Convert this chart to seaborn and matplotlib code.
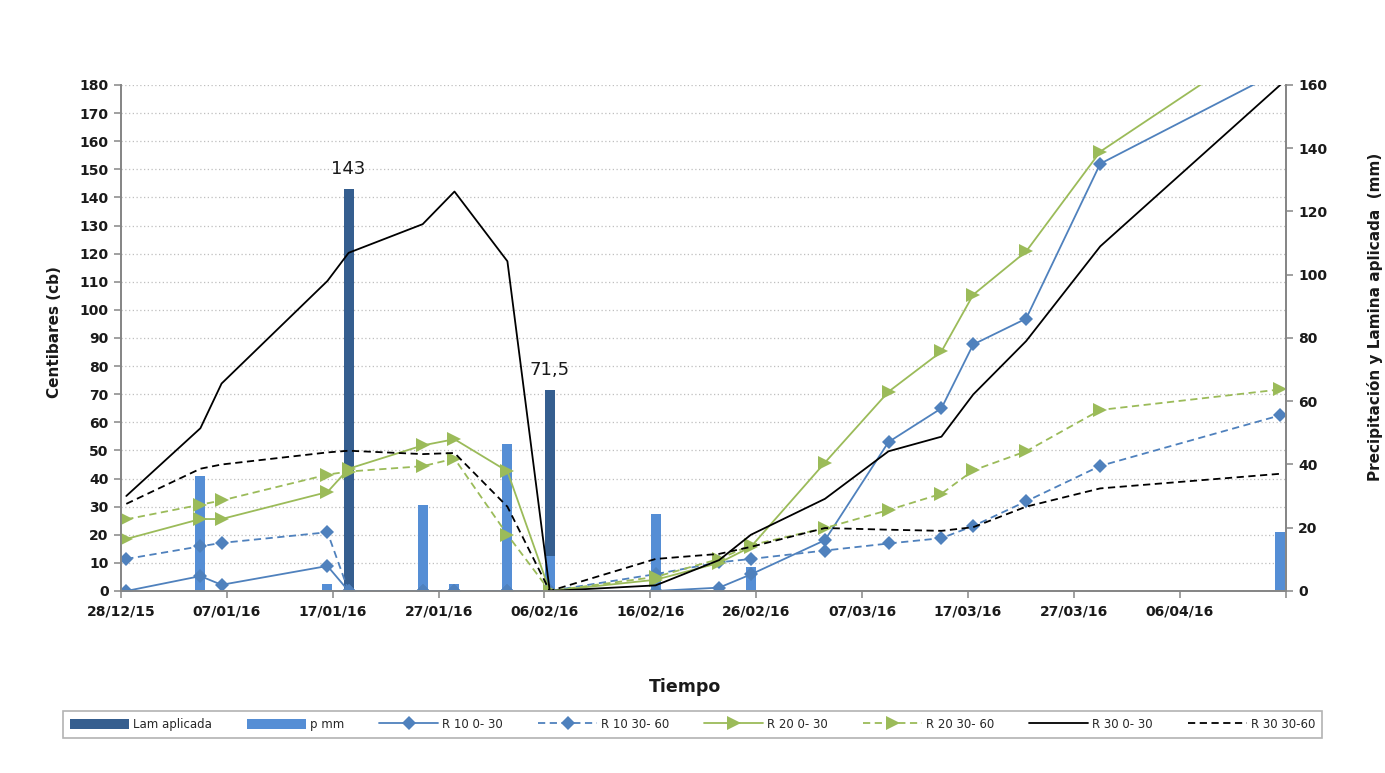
import numpy as np
import pandas as pd
import matplotlib
matplotlib.use("Agg")
import matplotlib.pyplot as plt
import matplotlib.dates as mdates
import seaborn as sns
from matplotlib.legend_handler import HandlerLine2D
from matplotlib.lines import Line2D

# ---------------- data ----------------
fechas = ['2015-12-28', '2016-01-04', '2016-01-06', '2016-01-16', '2016-01-18',
          '2016-01-25', '2016-01-28', '2016-02-02', '2016-02-06', '2016-02-16',
          '2016-02-22', '2016-02-25', '2016-03-03', '2016-03-09', '2016-03-14',
          '2016-03-17', '2016-03-22', '2016-03-29', '2016-04-15']

r10_0_30 = [0, 5.3, 2.2, 8.9, 0, 0, 0, 0, 0, 0, 1.2, 5.9, 18.1, 53, 65, 87.7, 96.9, 152, 185]
r10_30_60 = [11.4, 15.9, 17.1, 20.9, 0, 0, 0, 0, 0, 6, 10.2, 11.4, 14.4, 16.9, 18.8, 23.1, 31.9, 44.5, 62.5]
r20_0_30 = [18.5, 25.6, 25.6, 35.2, 43.5, 51.8, 54, 42.6, 0, 4, 10, 15.7, 45.7, 70.9, 85.2, 105.4, 120.8, 156.3, 199]
r20_30_60 = [25.5, 30.7, 32.2, 41.4, 42.5, 44.4, 47.1, 20, 0, 5, 11.4, 16.3, 22.4, 28.8, 34.6, 42.9, 49.7, 64.4, 71.7]
r30_0_30 = [33.8, 57.9, 73.8, 110.3, 120.3, 130.5, 142.1, 117.3, 0, 2, 11, 20, 32.8, 49.7, 54.9, 69.9, 88.9, 122.6, 180]
r30_30_60 = [31, 43.5, 45, 49.3, 49.9, 48.7, 49.1, 30, 0, 11.4, 13.2, 15.7, 22.4, 21.8, 21.4, 22.7, 30, 36.5, 41.7]

lam_fechas = ['2016-01-18', '2016-02-06']
lam_aplicada = [143, 71.5]

p_fechas = ['2016-01-04', '2016-01-16', '2016-01-25', '2016-01-28', '2016-02-02',
            '2016-02-06', '2016-02-16', '2016-02-25', '2016-04-15']
p_mm = [41, 2.5, 30.7, 2.4, 52.4, 12.6, 27.3, 8.7, 21]

x_inicio = '2015-12-28'
x_fin = '2016-04-16'

# ---------------- style ----------------
sns.set_theme(style="white")
plt.rcParams['font.family'] = ['DejaVu Sans']

C_LAM = '#355E8F'
C_P = '#558ED5'
C_BLUE = '#4F81BD'
C_GREEN = '#9BBB59'
C_BLACK = '#000000'
C_AX = '#868686'
C_TXT = '#1A1A1A'

W, H = 1385, 773
fig = plt.figure(figsize=(W / 100, H / 100), dpi=100)
x0, x1, y0, y1 = 121, 1285.5, 85, 591
ax = fig.add_axes([x0 / W, 1 - y1 / H, (x1 - x0) / W, (y1 - y0) / H])


def to_num(lst):
    # each date occupies a one-day slot; values sit at the middle of the slot
    return mdates.date2num(pd.to_datetime(lst).to_pydatetime()) + 0.5


xd = to_num(fechas)
xl = to_num(lam_fechas)
xp = to_num(p_fechas)

bars_lam = ax.bar(xl, lam_aplicada, width=0.95, color=C_LAM, zorder=2, label='Lam aplicada',
                  linewidth=0)
bars_p = ax.bar(xp, p_mm, width=0.95, color=C_P, zorder=2.1, label='p mm', linewidth=0)

for xv, v in zip(xl, lam_aplicada):
    ax.annotate(f"{v:g}".replace('.', ','), (xv, v), xytext=(0, 8), textcoords='offset points',
                ha='center', va='bottom', fontsize=13, color=C_TXT, zorder=5)

dash = (0, (4, 2.5))
specs = [
    (r10_0_30, 'R 10 0- 30', C_BLUE, '-', 'D', 7.5),
    (r10_30_60, 'R 10 30- 60', C_BLUE, dash, 'D', 7.5),
    (r20_0_30, 'R 20 0- 30', C_GREEN, '-', '>', 10),
    (r20_30_60, 'R 20 30- 60', C_GREEN, dash, '>', 10),
    (r30_0_30, 'R 30 0- 30', C_BLACK, '-', None, 0),
    (r30_30_60, 'R 30 30-60', C_BLACK, dash, None, 0),
]
line_handles = []
for vals, name, col, ls, mk, ms in specs:
    n_before = len(ax.lines)
    sns.lineplot(x=xd, y=vals, ax=ax, color=col, linewidth=1.3, linestyle=ls,
                 marker=mk, markersize=ms, markeredgewidth=0, label=name,
                 zorder=3, legend=False)
    line_handles.append(ax.lines[n_before])

ax.set_xlim(mdates.date2num(pd.Timestamp(x_inicio).to_pydatetime()),
            mdates.date2num(pd.Timestamp(x_fin).to_pydatetime()))
ax.set_ylim(0, 180)
ax.set_yticks(range(0, 181, 10))
ticks = pd.date_range(x_inicio, x_fin, freq='10D')
ax.set_xticks(mdates.date2num(ticks.to_pydatetime()))
ax.set_xticklabels([t.strftime('%d/%m/%y') if i < len(ticks) - 1 else '' for i, t in enumerate(ticks)])
ax.set_xlabel('')
ax.set_ylabel('')

ax.yaxis.grid(True, linestyle=(0, (1, 2)), color='#BFBFBF', linewidth=0.9)
ax.xaxis.grid(False)
ax.set_axisbelow(True)

ax2 = ax.twinx()
ax2.set_ylim(0, 160)
ax2.set_yticks(range(0, 161, 20))

for a in (ax, ax2):
    a.spines['top'].set_visible(False)
    for s in ('left', 'right', 'bottom'):
        a.spines[s].set_color(C_AX)
        a.spines[s].set_linewidth(1.3)
    a.tick_params(direction='out', length=5, width=1.1, color=C_AX,
                  labelsize=10, labelcolor=C_TXT, pad=4)
ax.tick_params(axis='x', bottom=True, pad=5)
ax.tick_params(axis='y', left=True)
ax2.tick_params(axis='y', right=True)
for lbl in ax.get_xticklabels() + ax.get_yticklabels() + ax2.get_yticklabels():
    lbl.set_fontweight('bold')

fig.text(55 / W, 1 - 332 / H, 'Centibares (cb)', rotation=90, ha='center', va='center',
         fontsize=11, fontweight='bold', color=C_TXT)
fig.text(1375 / W, 1 - 317 / H, 'Precipitación y Lamina aplicada  (mm)', rotation=90,
         ha='center', va='center', fontsize=11, fontweight='bold', color=C_TXT)
fig.text(685 / W, 1 - 687 / H, 'Tiempo', ha='center', va='center',
         fontsize=12.5, fontweight='bold', color=C_TXT)


class EndMarkerHandler(HandlerLine2D):
    def get_xdata(self, legend, xdescent, ydescent, width, height, fontsize):
        xdata = np.array([-xdescent, -xdescent + width])
        xdata_marker = np.array([-xdescent + width - 4])
        return xdata, xdata_marker


handles = [bars_lam, bars_p] + line_handles
labels = ['Lam aplicada', 'p mm'] + [s[1] for s in specs]
lb_x0, lb_x1, lb_y0, lb_y1 = 63, 1322, 708, 741
leg = fig.legend(handles, labels, loc='center',
                 bbox_to_anchor=(lb_x0 / W, 1 - lb_y1 / H, (lb_x1 - lb_x0) / W, (lb_y1 - lb_y0) / H),
                 mode='expand', ncol=8, fontsize=8.5, handlelength=5.0, handleheight=1.0,
                 handletextpad=0.3, columnspacing=1.0, borderaxespad=0, borderpad=0.6,
                 frameon=True, fancybox=False, edgecolor='#A0A0A0',
                 handler_map={Line2D: EndMarkerHandler()})
leg.get_frame().set_linewidth(1.2)

fig.savefig('out.png', dpi=100, facecolor='white')
